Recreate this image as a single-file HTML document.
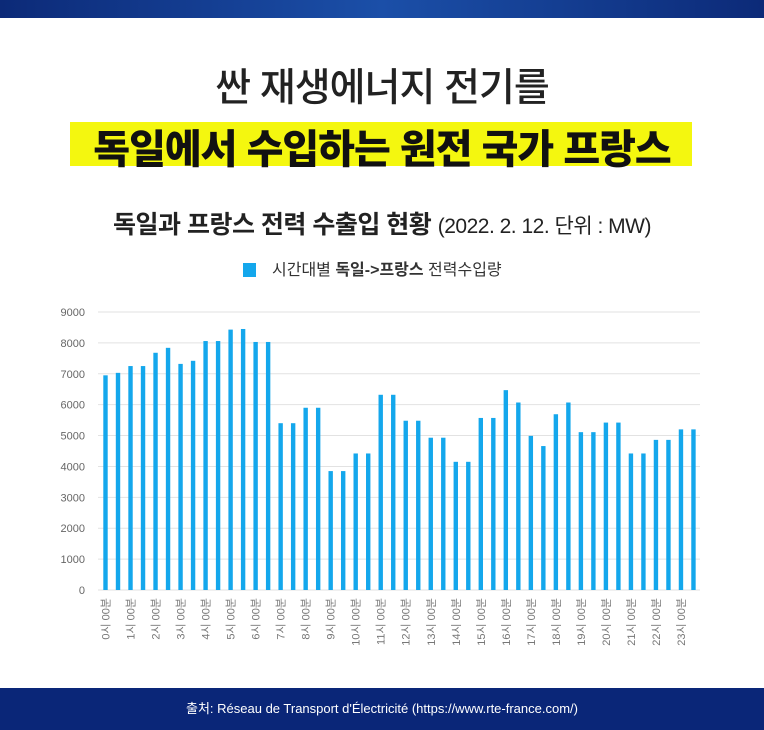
<!DOCTYPE html>
<html><head><meta charset="utf-8"><style>
body{margin:0;width:764px;height:730px;background:#fff;overflow:hidden;font-family:"Liberation Sans","Noto Sans CJK KR",sans-serif;position:relative}
.top{position:absolute;left:0;top:0;width:764px;height:18px;background:linear-gradient(90deg,#0c2a78,#1b4fa8 50%,#0c2a78)}
.foot{position:absolute;left:0;top:688px;width:764px;height:42px;background:#0a2678;color:#fff;font-size:13px;text-align:center;line-height:42px}
.t1{position:absolute;top:57px;left:0;width:764px;text-align:center;font-size:39px;font-weight:500;color:#222;letter-spacing:-1px}
.hl{position:absolute;left:70px;top:122px;width:622px;height:44px;background:#f4f70f}
.t2{position:absolute;top:117px;left:0;width:764px;text-align:center;font-size:40px;font-weight:900;color:#111;letter-spacing:-1px}
.t3{position:absolute;top:205px;left:0;width:764px;text-align:center;font-size:25px;font-weight:700;color:#222;letter-spacing:-0.5px}
.t3 span{font-weight:400;font-size:21px}
.lg{position:absolute;top:256px;left:243px;font-size:16px;color:#333}
.lg i{display:inline-block;width:13px;height:14px;background:#14a7ec;vertical-align:-2px;margin-right:16px}
</style></head><body>
<div class="top"></div>
<div class="t1">싼 재생에너지 전기를</div>
<div class="hl"></div>
<div class="t2">독일에서 수입하는 원전 국가 프랑스</div>
<div class="t3">독일과 프랑스 전력 수출입 현황 <span>(2022. 2. 12. 단위 : MW)</span></div>
<div class="lg"><i></i>시간대별 <b>독일-&gt;프랑스</b> 전력수입량</div>
<svg style="position:absolute;left:0;top:0" width="764" height="730" id="s"></svg>
<div class="foot">출처: Réseau de Transport d'Électricité (https://www.rte-france.com/)</div>
<script>
var v=[6950,7030,7250,7250,7680,7840,7320,7420,8060,8060,8430,8450,8030,8030,5400,5400,5900,5900,3850,3850,4420,4420,6320,6320,5480,5480,4930,4930,4150,4150,5570,5570,6470,6070,4990,4660,5690,6070,5110,5110,5420,5420,4420,4420,4860,4860,5200,5200];
var h='',y0=590,k=278/9000;
for(var i=0;i<=9;i++){var y=y0-i*1000*k;h+='<line x1="98" x2="700" y1="'+y+'" y2="'+y+'" stroke="#e2e2e2"/><text x="85" y="'+(y+4)+'" font-size="11" fill="#666" text-anchor="end" font-family="Liberation Sans">'+(i*1000)+'</text>';}
for(var i=0;i<48;i++){var x=105.5+i*12.51,hh=v[i]*k;h+='<rect x="'+(x-2.2)+'" y="'+(y0-hh)+'" width="4.4" height="'+hh+'" fill="#14a7ec"/>';
if(i%2==0){h+='<text transform="translate('+(x+4)+',598) rotate(-90)" font-size="11" fill="#777" text-anchor="end" font-family="Liberation Sans,Noto Sans CJK KR,sans-serif">'+(i/2)+'시 00분</text>';}}
document.getElementById('s').innerHTML=h;
</script>
</body></html>
